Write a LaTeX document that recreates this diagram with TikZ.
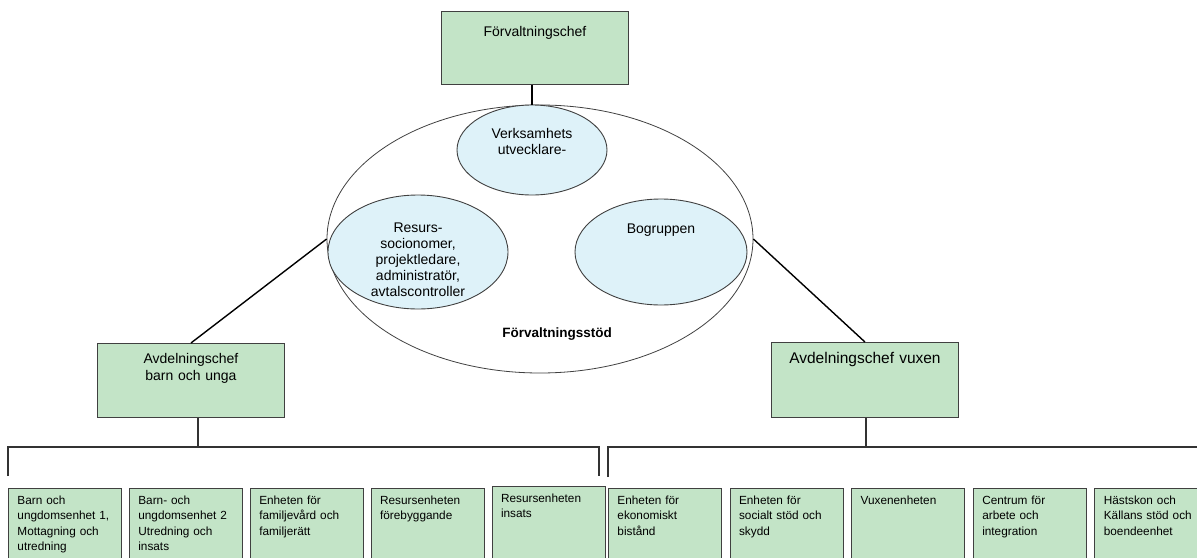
\documentclass[tikz,border=0pt]{standalone}
\usepackage{fontspec}
\setmainfont{Liberation Sans}
\usetikzlibrary{positioning,shapes.geometric}
\definecolor{boxgreen}{HTML}{C3E4C7}
\definecolor{ovalblue}{HTML}{DEF2F9}
\definecolor{edgegray}{HTML}{404040}

\begin{document}
\begin{tikzpicture}[x=1pt,y=-1pt,node distance=7pt,
    chef box/.style={rectangle,draw=edgegray,fill=boxgreen,line width=0.9pt,inner sep=0pt,
      text width=187pt,align=center,text height=22pt,text depth=52pt,
      font=\fontsize{14}{17}\selectfont},
    unit box/.style={rectangle,draw=edgegray,fill=boxgreen,line width=0.9pt,inner xsep=9pt,
      inner ysep=0pt,text width=95pt,align=left,text height=16pt,text depth=64pt,
      font=\fontsize{11.8}{15.3}\selectfont},
    group oval/.style={ellipse,draw=edgegray,fill=ovalblue,line width=0.9pt,inner sep=0pt,
      text width=100pt,align=center,text height=10pt,font=\fontsize{14}{16.2}\selectfont},
    link/.style={draw=black,line width=1.4pt},
    bracket/.style={draw=black!80,line width=1.8pt}]
    \useasboundingbox (0,0) rectangle (1197,557);
    \clip (0,0) rectangle (1197,557);

    % ledning
    \node[chef box,anchor=north west,text height=25pt,text depth=48pt] (chef) at (441,11) {Förvaltningschef};

    % förvaltningsstöd
    \node[ellipse,draw=edgegray,line width=0.8pt,inner sep=0pt,
      minimum width=426pt,minimum height=268pt] (stod) at (540,239) {};
    \node[group oval,minimum width=150pt,minimum height=90pt,text depth=34pt] (verk) at (532,150) {Verksamhets\\utvecklare-};
    \node[group oval,minimum width=180pt,minimum height=114pt,text depth=50pt] (resurs) at (418,252) {Resurs-\\socionomer,\\projektledare,\\administratör,\\avtalscontroller};
    \node[group oval,minimum width=172pt,minimum height=106pt,text depth=48pt] (bo) at (661,252) {Bogruppen};
    \node[font=\bfseries\fontsize{13.5}{16}\selectfont] (stodtext) at (557,334) {Förvaltningsstöd};

    % avdelningar
    \node[chef box,anchor=north west,text height=20pt,text depth=54pt] (barn) at (97,343) {Avdelningschef\\barn och unga};
    \node[chef box,anchor=north west,text height=21pt,text depth=54pt,
      font=\fontsize{15.5}{18}\selectfont] (vuxen) at (771,342) {Avdelningschef vuxen};

    \draw[link] (verk.north |- chef.south) -- (verk.north);
    \draw[link] (barn.north) -- (stod.west);
    \draw[link] (stod.east) -- (vuxen.north);

    % klamrar
    \coordinate (ljoin) at (198,447);
    \coordinate (lleft) at (8,476);
    \coordinate (lright) at (599,476);
    \coordinate (rjoin) at (866,447);
    \coordinate (rleft) at (608,477);
    \coordinate (rright) at (1200,447);
    \draw[bracket] (ljoin |- barn.south) -- (ljoin);
    \draw[bracket] (lleft) |- (ljoin) -| (lright);
    \draw[bracket] (rjoin |- vuxen.south) -- (rjoin);
    \draw[bracket] (rleft) |- (rright);

    % enheter barn och unga
    \node[unit box,anchor=north west] (u1) at (8,488) {Barn och\\ungdomsenhet~1,\\Mottagning och\\utredning};
    \node[unit box,right=of u1] (u2) {Barn- och\\ungdomsenhet~2\\Utredning och\\insats};
    \node[unit box,right=of u2] (u3) {Enheten för\\familjevård och\\familjerätt};
    \node[unit box,right=of u3] (u4) {Resursenheten\\förebyggande};
    \node[unit box,right=of u4,yshift=2pt] (u5) {Resursenheten\\insats};

    % enheter vuxen
    \node[unit box,anchor=north west] (u6) at (608,488) {Enheten för\\ekonomiskt\\bistånd};
    \node[unit box,right=7.7pt of u6] (u7) {Enheten för\\socialt stöd och\\skydd};
    \node[unit box,right=7.7pt of u7] (u8) {Vuxenenheten};
    \node[unit box,right=7.7pt of u8] (u9) {Centrum för\\arbete och\\integration};
    \node[unit box,right=7.7pt of u9] (u10) {Hästskon och\\Källans stöd och\\boendeenhet};
\end{tikzpicture}
\end{document}
